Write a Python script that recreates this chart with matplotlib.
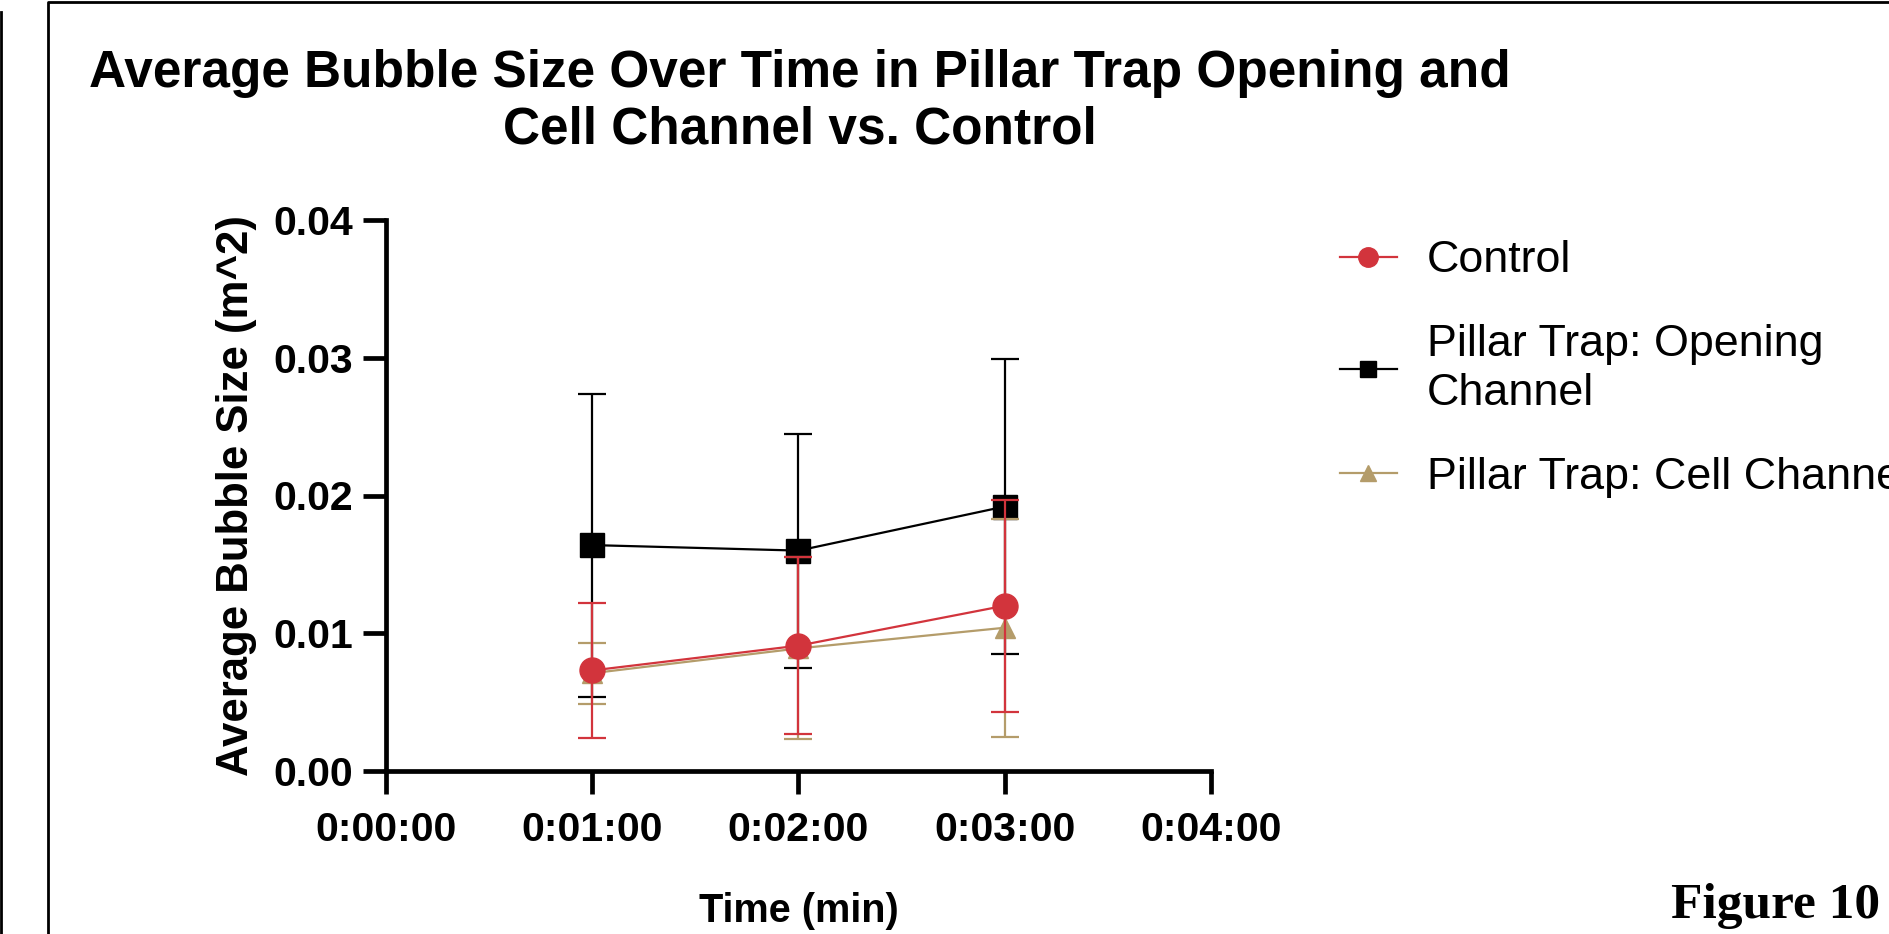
import numpy as np
import matplotlib
matplotlib.use("Agg")
import matplotlib.pyplot as plt
from matplotlib.lines import Line2D

# data (time in minutes, size in m^2, error = SD)
times = [1, 2, 3]
tick_labels = ["0:00:00", "0:01:00", "0:02:00", "0:03:00", "0:04:00"]

control = [0.0073, 0.0091, 0.0120]
control_err = [0.0049, 0.0064, 0.0077]

opening = [0.0164, 0.0160, 0.0192]
opening_err = [0.0110, 0.0085, 0.0107]

cell = [0.0071, 0.0089, 0.0104]
cell_err = [0.0022, 0.0066, 0.0079]

plt.rcParams["font.family"] = ["Liberation Sans", "DejaVu Sans"]

W, H = 1890, 934
fig = plt.figure(figsize=(W / 100, H / 100), dpi=100)
ax = fig.add_axes([386 / W, 1 - 771 / H, (1211 - 386) / W, (771 - 220) / H])

red = "#d2343c"
tan = "#b49c6a"
kw = dict(lw=1.6, elinewidth=1.6, capsize=10, capthick=1.6)

ax.errorbar(times, opening, yerr=opening_err, color="black", marker="s", ms=17,
            zorder=3, **kw)
ax.errorbar(times, cell, yerr=cell_err, color=tan, marker="^", ms=15,
            zorder=4, **kw)
ax.errorbar(times, control, yerr=control_err, color=red, marker="o", ms=18,
            zorder=5, **kw)

ax.set_xlim(0, 4)
ax.set_ylim(0, 0.04)
ax.set_xticks(range(5))
ax.set_xticklabels(tick_labels)
ax.set_yticks([0, 0.01, 0.02, 0.03, 0.04])
ax.set_yticklabels(["0.00", "0.01", "0.02", "0.03", "0.04"])

for s in ["top", "right"]:
    ax.spines[s].set_visible(False)
for s in ["left", "bottom"]:
    ax.spines[s].set_linewidth(3.4)
ax.tick_params(width=3.4, length=16.5, labelsize=29.5)
ax.tick_params(axis="x", pad=12)
ax.tick_params(axis="y", pad=7)
for lab in ax.get_xticklabels() + ax.get_yticklabels():
    lab.set_fontweight("bold")

ax.set_xlabel("Time (min)", fontsize=28.5, fontweight="bold", labelpad=31)
ax.set_ylabel("Average Bubble Size (m^2)", fontsize=31.5, fontweight="bold", labelpad=12)

fig.text(800 / W, 1 - 49 / H,
         "Average Bubble Size Over Time in Pillar Trap Opening and\nCell Channel vs. Control",
         ha="center", va="top", fontsize=37, fontweight="bold", linespacing=1.2)

# legend: plain line + marker handles, no error bars
handles = [
    Line2D([], [], color=red, marker="o", ms=14, lw=1.6),
    Line2D([], [], color="black", marker="s", ms=12, lw=1.6),
    Line2D([], [], color=tan, marker="^", ms=12, lw=1.6),
]
labels = ["Control", "Pillar Trap: Opening\nChannel", "Pillar Trap: Cell Channel"]
leg = fig.legend(handles, labels, loc="upper left",
                 bbox_to_anchor=(1318 / W, 1 - 218 / H), borderpad=0,
                 frameon=False, fontsize=32.3, handlelength=1.25,
                 handletextpad=0.68, labelspacing=0.95)
for t in leg.get_texts():
    t.set_linespacing(1.25)

fig.text(1880 / W, 1 - 918 / H, "Figure 10", ha="right", va="baseline",
         fontsize=37, fontweight="bold", family=["Liberation Serif", "DejaVu Serif"])

# page frame lines
fig.add_artist(Line2D([1 / W, 1 / W], [0, 1 - 12 / H], color="black", lw=2))
fig.add_artist(Line2D([48 / W, 48 / W, 1], [0, 1 - 2 / H, 1 - 2 / H], color="black", lw=2))

fig.savefig("out.png", dpi=100)
